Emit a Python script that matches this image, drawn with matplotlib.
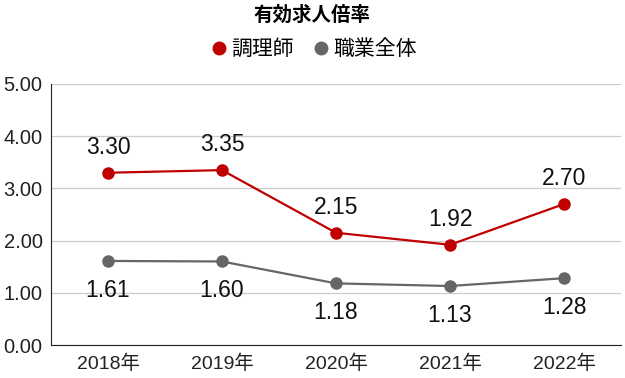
import matplotlib
matplotlib.use('Agg')
import matplotlib.pyplot as plt
from matplotlib.lines import Line2D

plt.rcParams['font.family'] = ['Liberation Sans', 'Noto Sans CJK JP', 'DejaVu Sans']

years = ['2018年', '2019年', '2020年', '2021年', '2022年']
chef = [3.30, 3.35, 2.15, 1.92, 2.70]
all_jobs = [1.61, 1.60, 1.18, 1.13, 1.28]
series_names = ['調理師', '職業全体']
title = '有効求人倍率'

red = '#c00000'
gray = '#666666'

fig = plt.figure(figsize=(6.25, 3.78), dpi=100)
ax = fig.add_axes([0.0816, 0.0873, 0.912, 0.6905])

x = list(range(len(years)))
ax.plot(x, chef, color=red, lw=1.6, marker='o', ms=8, zorder=3)
ax.plot(x, all_jobs, color=gray, lw=1.6, marker='o', ms=8, zorder=3)

for xi, v in zip(x, chef):
    ax.annotate(f'{v:.2f}', (xi, v), xytext=(0, 18.5), textcoords='offset points',
                ha='center', va='center', fontsize=16.5, color='#111111')
for xi, v in zip(x, all_jobs):
    ax.annotate(f'{v:.2f}', (xi, v), xytext=(0, -21), textcoords='offset points',
                ha='center', va='center', fontsize=16.5, color='#111111')

ax.set_xlim(-0.5, len(years) - 0.5)
ax.set_ylim(0, 5)
ax.set_yticks([0, 1, 2, 3, 4, 5])
ax.set_yticklabels([f'{t:.2f}' for t in range(6)])
ax.set_xticks(x)
ax.set_xticklabels(years)
ax.tick_params(axis='y', length=0, labelsize=14.5, pad=6, labelcolor='#222222')
ax.tick_params(axis='x', length=0, labelsize=14, pad=7, labelcolor='#222222')
ax.grid(axis='y', color='#cccccc', lw=0.9)
ax.set_axisbelow(True)
ax.spines['top'].set_visible(False)
ax.spines['right'].set_visible(False)
ax.spines['left'].set_color('#222222')
ax.spines['bottom'].set_color('#222222')

fig.text(0.5, 0.96, title, ha='center', va='center', fontsize=14, fontweight='bold')
handles = [Line2D([], [], ls='none', marker='o', ms=9, color=red),
           Line2D([], [], ls='none', marker='o', ms=9, color=gray)]
fig.legend(handles, series_names, loc='center', bbox_to_anchor=(0.5, 0.87), ncol=2,
           frameon=False, fontsize=15, handletextpad=0.1, columnspacing=0.8,
           handlelength=1.0)

plt.savefig('out.png', dpi=100)
